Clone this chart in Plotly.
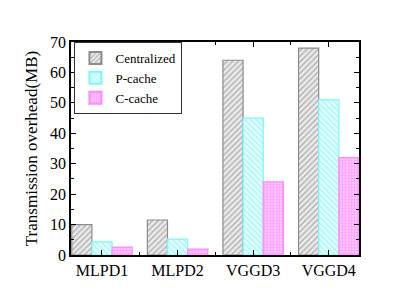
import plotly.graph_objects as go

categories = ["MLPD1", "MLPD2", "VGGD3", "VGGD4"]
centralized = [10, 11.5, 64, 68]
p_cache = [4.3, 5.2, 45, 51]
c_cache = [2.6, 1.9, 24, 32]
y_ticks = [0, 10, 20, 30, 40, 50, 60, 70]

xpos = list(range(len(categories)))
FONT = "Liberation Serif, Times New Roman, serif"

fig = go.Figure()
fig.add_trace(go.Bar(
    name="Centralized", x=xpos, y=centralized,
    marker=dict(color="#e0e0e0", line=dict(color="#8c8c8c", width=1.2),
                pattern=dict(shape="/", fgcolor="#808080", bgcolor="#ececec", size=4, solidity=0.4)),
))
fig.add_trace(go.Bar(
    name="P-cache", x=xpos, y=p_cache,
    marker=dict(color="#ccffff", line=dict(color="#7ff5f5", width=1.2),
                pattern=dict(shape="\\", fgcolor="#66f0f0", bgcolor="#e8ffff", size=4, solidity=0.4)),
))
fig.add_trace(go.Bar(
    name="C-cache", x=xpos, y=c_cache,
    marker=dict(color="#ffbbff", line=dict(color="#ff88ff", width=1.2),
                pattern=dict(shape="+", fgcolor="#ff80ff", bgcolor="#ffc4ff", size=3, solidity=0.45)),
))

fig.update_layout(
    width=391, height=296,
    margin=dict(l=63, r=40, t=34, b=49),
    paper_bgcolor="white", plot_bgcolor="white",
    barmode="group", bargap=0.2, bargroupgap=0,
    font=dict(family=FONT, size=16, color="black"),
    showlegend=True,
    legend=dict(x=0.012, y=1.0, xanchor="left", yanchor="top",
                bgcolor="white", bordercolor="#333333", borderwidth=1,
                font=dict(family=FONT, size=13), tracegroupgap=0,
                itemsizing="constant"),
)
fig.update_xaxes(
    range=[-0.41, 3.40], tickmode="array", tickvals=xpos, ticktext=categories,
    showline=True, linecolor="black", linewidth=1.5, mirror="ticks",
    ticks="inside", ticklen=5, tickcolor="black", tickwidth=1,
    minor=dict(tickmode="array", tickvals=[0.5, 1.5, 2.5], ticks="inside", ticklen=3, tickcolor="black"),
    showgrid=False, zeroline=False,
    tickfont=dict(family=FONT, size=16),
)
fig.update_yaxes(
    range=[0, 70], tickmode="array", tickvals=y_ticks,
    showline=True, linecolor="black", linewidth=1.5, mirror="ticks",
    ticks="inside", ticklen=5, tickcolor="black", tickwidth=1,
    minor=dict(dtick=5, ticks="inside", ticklen=3, tickcolor="black"),
    showgrid=False, zeroline=False,
    tickfont=dict(family=FONT, size=16),
    title=dict(text="Transmission overhead(MB)", font=dict(family=FONT, size=17), standoff=8),
)

fig.write_html("out.html")
